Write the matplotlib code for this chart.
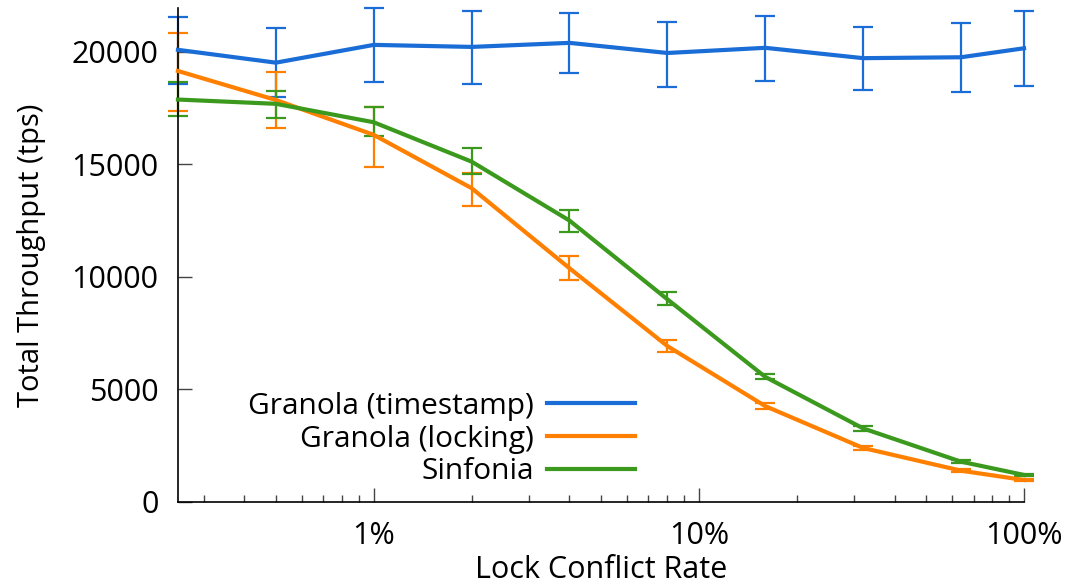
import matplotlib.pyplot as plt
import numpy as np
from matplotlib.ticker import FuncFormatter, LogLocator, NullFormatter

plt.rcParams['font.family'] = ['Open Sans', 'DejaVu Sans']

# lock conflict rate (%)
rates = [0.25, 0.5, 1, 2, 4, 8, 16, 32, 64, 100]

# Granola (timestamp)
ts_mean = [20090, 19520, 20310, 20220, 20400, 19950, 20180, 19720, 19760, 20160]
ts_low = [18580, 17990, 18650, 18580, 19060, 18440, 18710, 18300, 18230, 18490]
ts_high = [21570, 21070, 21940, 21820, 21730, 21330, 21600, 21120, 21290, 21820]

# Granola (locking)
lk_mean = [19150, 17860, 16310, 13940, 10380, 6920, 4250, 2390, 1380, 965]
lk_low = [17390, 16630, 14900, 13150, 9860, 6650, 4130, 2300, 1320, 900]
lk_high = [20840, 19110, 17530, 14630, 10930, 7190, 4380, 2480, 1440, 1030]

# Sinfonia
sf_mean = [17880, 17690, 16870, 15120, 12500, 9000, 5550, 3260, 1780, 1190]
sf_low = [17140, 17050, 16260, 14570, 12010, 8750, 5440, 3160, 1720, 1140]
sf_high = [18680, 18260, 17570, 15720, 12960, 9310, 5660, 3360, 1840, 1240]

series = [
    ("Granola (timestamp)", ts_mean, ts_low, ts_high, "#1a6dd6"),
    ("Granola (locking)", lk_mean, lk_low, lk_high, "#ff8000"),
    ("Sinfonia", sf_mean, sf_low, sf_high, "#3b9a1d"),
]

fig = plt.figure(figsize=(10.67, 5.84), dpi=100)
ax = fig.add_axes([0.1668, 0.1409, 0.7929, 0.8454])

for name, mean, low, high, color in series:
    mean = np.array(mean)
    err = [mean - np.array(low), np.array(high) - mean]
    ax.errorbar(rates, mean, yerr=err, fmt="none", ecolor=color,
                elinewidth=1.6, capsize=7.5, capthick=1.6, clip_on=False, zorder=2)
    ax.plot(rates, mean, color=color, linewidth=3, label=name,
            clip_on=False, zorder=3)

ax.set_xscale("log")
ax.set_xlim(0.25, 100)
ax.set_ylim(0, 21950)
ax.set_yticks([0, 5000, 10000, 15000, 20000])

ax.xaxis.set_major_locator(LogLocator(base=10, numticks=10))
ax.xaxis.set_minor_locator(LogLocator(base=10, subs=np.arange(2, 10), numticks=20))
ax.xaxis.set_major_formatter(FuncFormatter(lambda v, p: f"{v:g}%"))
ax.xaxis.set_minor_formatter(NullFormatter())

for side in ("top", "right"):
    ax.spines[side].set_visible(False)
for side in ("left", "bottom"):
    ax.spines[side].set_linewidth(1.2)

ax.tick_params(axis="both", which="major", direction="in", length=10,
               width=1, labelsize=22, color="#444444")
ax.tick_params(axis="x", which="major", pad=14)
ax.tick_params(axis="y", which="major", pad=14)
ax.tick_params(axis="x", which="minor", direction="in", length=5, width=1,
               color="#444444")

ax.set_xlabel("Lock Conflict Rate", fontsize=22, labelpad=3)
ax.set_ylabel("Total Throughput (tps)", fontsize=21, labelpad=18)

ax.legend(loc="center right", bbox_to_anchor=(0.54, 0.127), frameon=False,
          markerfirst=False, fontsize=21.5, handlelength=2.95,
          handletextpad=0.42, labelspacing=0.12, borderpad=0, borderaxespad=0)

fig.savefig("out.png", dpi=100)
